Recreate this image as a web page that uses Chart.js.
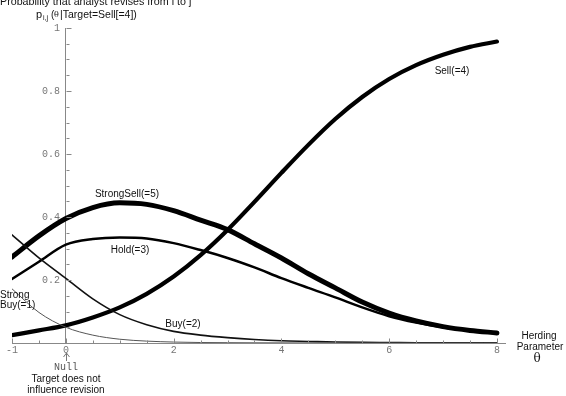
<!DOCTYPE html>
<html><head><meta charset="utf-8">
<script src="https://cdn.jsdelivr.net/npm/chart.js@4"></script>
<style>html,body{margin:0;padding:0;background:#fff;overflow:hidden}#wrap{width:566px;height:396px;position:relative}</style>
</head><body><div id="wrap"><canvas id="c" width="566" height="396"></canvas></div>
<script>
// Herding parameter theta (x values)
const thetas = [-1,-0.5,0,0.5,1,1.5,2,2.5,3,3.5,4,4.5,5,5.5,6,6.5,7,7.5,8];
// Probabilities
const sell       = [0.025,0.04,0.056,0.081,0.113,0.156,0.211,0.279,0.359,0.448,0.54,0.629,0.711,0.781,0.838,0.882,0.915,0.94,0.957];
const strongSell = [0.273,0.34,0.395,0.43,0.445,0.44,0.42,0.39,0.36,0.315,0.27,0.22,0.175,0.13,0.095,0.07,0.052,0.04,0.032];
const hold       = [0.203,0.258,0.312,0.33,0.335,0.332,0.317,0.295,0.27,0.24,0.206,0.175,0.145,0.113,0.085,0.065,0.05,0.039,0.031];
const buy        = [0.343,0.27,0.205,0.14,0.09,0.058,0.037,0.025,0.017,0.011,0.007,0.005,0.003,0.002,0.0015,0.001,0.0007,0.0005,0.0003];
const strongBuy  = [0.172,0.097,0.05,0.025,0.012,0.006,0.003,0.0015,0.001,0.0006,0.0004,0.0003,0.0002,0.0001,0.0001,0,0,0,0];
// Tick labels
const xTicks = [-1,0,2,4,6,8];
const yTicks = [0.2,0.4,0.6,0.8,1];

function pts(arr){ return thetas.map((t,i)=>({x:t,y:arr[i]})); }
function ds(label, arr, w, color){
  return {label, data: pts(arr), borderColor: color, borderWidth: w, pointRadius: 0,
          fill:false, cubicInterpolationMode:'monotone', borderCapStyle:'round', borderJoinStyle:'round'};
}

const annot = {
  id:'annot',
  afterDraw(chart){
    const ctx = chart.ctx, xs = chart.scales.x, ys = chart.scales.y;
    const px = v=>xs.getPixelForValue(v), py = v=>ys.getPixelForValue(v);
    ctx.save();
    // minor and major ticks
    ctx.strokeStyle = '#888'; ctx.lineWidth = 1;
    const y0 = Math.round(py(0)) + 0.5, x0 = Math.round(px(0)) + 0.5;
    for (let k = -2; k <= 16; k++){
      const v = k/2; const major = xTicks.includes(v);
      const X = Math.round(px(v)) + 0.5;
      ctx.beginPath(); ctx.moveTo(X, y0); ctx.lineTo(X, y0 - (major?5:3)); ctx.stroke();
    }
    for (let k = 1; k <= 20; k++){
      const v = k/20; const major = (k % 4 === 0);
      const Y = Math.round(py(v)) + 0.5;
      ctx.beginPath(); ctx.moveTo(x0, Y); ctx.lineTo(x0 + (major?5:3), Y); ctx.stroke();
    }
    // texts
    ctx.fillStyle = '#111';
    ctx.textBaseline = 'alphabetic';
    ctx.font = '10.7px "Liberation Sans", Arial, sans-serif';
    ctx.textAlign = 'left';
    ctx.fillText('Probability that analyst revises from i to j', 0, 5);
    // p_{i,j}(θ|Target=Sell[=4])
    ctx.font = '11px "Liberation Sans", Arial, sans-serif';
    ctx.fillText('p', 36, 18);
    ctx.font = '7px "Liberation Sans", Arial, sans-serif';
    ctx.fillText('i,j', 43, 20);
    ctx.font = '10px "Liberation Sans", Arial, sans-serif';
    ctx.fillText('(', 51, 18);
    ctx.font = '8px "DejaVu Serif", serif';
    ctx.fillText('θ', 54, 17);
    ctx.font = '10.5px "Liberation Sans", Arial, sans-serif';
    ctx.fillText('|Target=Sell[=4])', 60, 18);

    ctx.textAlign = 'center';
    ctx.font = '10px "Liberation Sans", Arial, sans-serif';
    ctx.fillText('Sell(=4)', 452, 74);
    ctx.fillText('StrongSell(=5)', 127, 197);
    ctx.fillText('Hold(=3)', 130, 253);
    ctx.fillText('Buy(=2)', 183, 327);
    ctx.textAlign = 'left';
    ctx.fillText('Strong', 0, 298);
    ctx.fillText('Buy(=1)', 0, 308);
    ctx.textAlign = 'center';
    ctx.fillText('Herding', 539, 339);
    ctx.fillText('Parameter', 540, 350);
    ctx.font = '12px "DejaVu Serif", serif';
    ctx.fillText('θ', 537, 362);
    // Null annotation
    ctx.fillStyle = '#555';
    ctx.font = '10px "Liberation Mono", monospace';
    ctx.fillText('Null', 66, 370);
    ctx.fillStyle = '#111';
    ctx.font = '10px "Liberation Sans", Arial, sans-serif';
    ctx.fillText('Target does not', 66, 382);
    ctx.fillText('influence revision', 66, 393);
    // arrow
    ctx.strokeStyle = '#777'; ctx.lineWidth = 1;
    ctx.beginPath(); ctx.moveTo(66.5, 361); ctx.lineTo(66.5, 353);
    ctx.moveTo(63.5, 357); ctx.lineTo(66.5, 353); ctx.lineTo(69.5, 357); ctx.stroke();
    ctx.restore();
  }
};

new Chart(document.getElementById('c'), {
  type: 'line',
  data: { datasets: [
    ds('StrongBuy(=1)', strongBuy, 1, '#555'),
    ds('Buy(=2)', buy, 1.6, '#111'),
    ds('Hold(=3)', hold, 2.5, '#000'),
    ds('Sell(=4)', sell, 4.2, '#000'),
    ds('StrongSell(=5)', strongSell, 5, '#000')
  ]},
  options: {
    responsive: false, animation: false,
    layout: { padding: { left: 12, right: 61, top: 28, bottom: 53 } },
    plugins: { legend: { display: false }, tooltip: { enabled: false } },
    scales: {
      x: { type: 'linear', min: -1, max: 8.15, position: { y: 0 },
        afterBuildTicks: s => { s.ticks = xTicks.map(v => ({ value: v })); },
        ticks: { callback: v => String(v), font: { family: '"Liberation Mono", monospace', size: 10 }, color: '#777', padding: 1, maxRotation: 0, autoSkip: false },
        grid: { display: false, drawTicks: false }, border: { display: true, color: '#888', width: 1 } },
      y: { type: 'linear', min: 0, max: 1, position: { x: 0 },
        afterBuildTicks: s => { s.ticks = yTicks.map(v => ({ value: v })); },
        ticks: { callback: v => (v === 1 ? '1 ' : v.toFixed(1) + ' '), font: { family: '"Liberation Mono", monospace', size: 10 }, color: '#777', padding: 5, autoSkip: false },
        grid: { display: false, drawTicks: false }, border: { display: true, color: '#888', width: 1 } }
    }
  },
  plugins: [annot]
});
</script></body></html>
